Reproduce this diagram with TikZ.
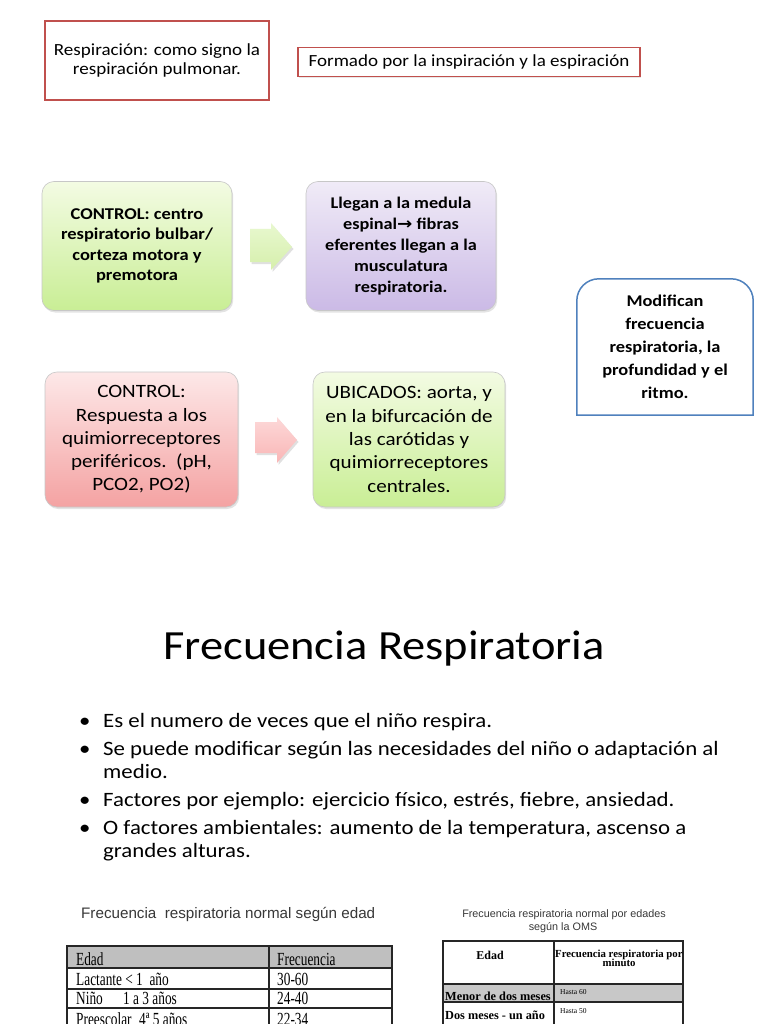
\documentclass[tikz,border=0pt]{standalone}
\usepackage{fontspec}
\setmainfont{Carlito}[FakeStretch=1.12]
\newfontfamily\dejavu{DejaVu Sans}[FakeStretch=1.12]
\newfontfamily\tserif{Liberation Serif}[FakeStretch=0.72]
\newfontfamily\tserifb{Liberation Serif}
\newfontfamily\tsans{Liberation Sans}
\usetikzlibrary{shadows}
\definecolor{bred}{HTML}{C0504D}
\definecolor{bblue}{HTML}{4F81BD}
\definecolor{gtop}{HTML}{F3FBE3}
\definecolor{gbot}{HTML}{C9EE95}
\definecolor{ptop}{HTML}{F0EBF7}
\definecolor{pbot}{HTML}{CBBAE6}
\definecolor{rtop}{HTML}{FDE8E8}
\definecolor{rbot}{HTML}{F4A2A2}
\definecolor{gatop}{HTML}{E8F8CF}
\definecolor{gabot}{HTML}{D6EFAC}
\definecolor{ratop}{HTML}{FDD8D8}
\definecolor{rabot}{HTML}{F9B6B6}
\definecolor{hgray}{HTML}{BFBFBF}
\definecolor{rgray}{HTML}{C8C8C8}
\definecolor{ttext}{HTML}{383838}
\tikzset{
  topbox/.style={draw=bred, line width=1.4pt, fill=white, align=center, inner sep=0pt,
    font=\fontsize{17}{18.5}\selectfont,
    drop shadow={opacity=0.18, shadow xshift=1pt, shadow yshift=-1.5pt}},
  gbox/.style={rounded corners=12pt, draw=black!22, line width=0.6pt, align=center, inner sep=4pt,
    drop shadow={opacity=0.22, shadow xshift=1.2pt, shadow yshift=-2pt}},
  greenfill/.style={top color=gtop, bottom color=gbot},
  purplefill/.style={top color=ptop, bottom color=pbot},
  redfill/.style={top color=rtop, bottom color=rbot},
  bluel/.style={draw=bblue, line width=1.5pt},
  tline/.style={draw=black!85, line width=1.4pt},
  btext/.style={anchor=base west, inner sep=0pt},
  bul/.style={anchor=base west, inner sep=0pt, font=\fontsize{20.4}{23}\selectfont},
  t1/.style={anchor=base west, inner sep=0pt, font=\tserif\fontsize{18.5}{20}\selectfont},
}
\begin{document}
\begin{tikzpicture}[x=1pt,y=-1pt]
\useasboundingbox[fill=white] (0,0) rectangle (768,1024);
\clip (0,0) rectangle (768,1024);

% top boxes
\node[topbox, minimum width=224pt, minimum height=79pt] (resp) at (157,60.5)
  {Respiración: como signo la\\respiración pulmonar.};
\node[topbox, minimum width=342pt, minimum height=29pt] (form) at (469,62)
  {Formado por la inspiración y la espiración};

% first row
\node[gbox, greenfill, minimum width=190pt, minimum height=129pt,
  font=\bfseries\fontsize{16.5}{20.5}\selectfont] (ctrl1) at (137,246)
  {CONTROL: centro\\respiratorio bulbar/\\corteza motora y\\premotora};
\node[gbox, purplefill, minimum width=190pt, minimum height=129pt,
  font=\bfseries\fontsize{16.3}{21}\selectfont] (lleg) at (401,246)
  {Llegan a la medula\\espinal{\dejavu\bfseries →} fibras\\eferentes llegan a la\\musculatura\\respiratoria.};

% block arrow 1
\fill[black, opacity=0.12] (251.5,231) -- (272.5,231) -- (272.5,225) -- (293.5,249) -- (272.5,272) -- (272.5,264) -- (251.5,264) -- cycle;
\shade[top color=gatop, bottom color=gabot] (250,229) -- (271,229) -- (271,223) -- (292,247) -- (271,270) -- (271,262) -- (250,262) -- cycle;

% second row
\node[gbox, redfill, minimum width=193pt, minimum height=135pt,
  font=\fontsize{18.8}{23.3}\selectfont] (ctrl2) at (141.5,439.5)
  {CONTROL:\\Respuesta a los\\quimiorreceptores\\periféricos.\ \ (pH,\\PCO2, PO2)};
\node[gbox, greenfill, minimum width=192pt, minimum height=135pt,
  font=\fontsize{18.8}{23.3}\selectfont] (ubic) at (409,439.5)
  {UBICADOS: aorta, y\\en la bifurcación de\\las carótidas y\\quimiorreceptores\\centrales.};

% block arrow 2
\fill[black, opacity=0.12] (256.5,424) -- (278.5,424) -- (278.5,419) -- (298.5,442) -- (278.5,465) -- (278.5,455) -- (256.5,455) -- cycle;
\shade[top color=ratop, bottom color=rabot] (255,422) -- (277,422) -- (277,417) -- (297,440) -- (277,463) -- (277,453) -- (255,453) -- cycle;

% blue box
\node[minimum width=176pt, minimum height=139pt, align=center, inner sep=0pt,
  font=\bfseries\fontsize{16.4}{23}\selectfont] (modi) at (665,347)
  {Modifican\\frecuencia\\respiratoria, la\\profundidad y el\\ritmo.};
\draw[bluel] ([yshift=1.5pt]modi.south west) -- ([yshift=-23.5pt]modi.north west)
  arc[start angle=180, end angle=90, radius=22pt] -- ([xshift=-22pt, yshift=-1.5pt]modi.north east)
  arc[start angle=90, end angle=0, radius=22pt] -- ([yshift=1.5pt]modi.south east) -- cycle;

% title
\node[anchor=base, inner sep=0pt, font=\fontsize{41.5}{45}\selectfont] (title) at (384,659) {Frecuencia Respiratoria};

% bullets
\node[bul] (d1) at (79,727) {•};
\node[bul] (b1) at (103,727) {Es el numero de veces que el niño respira.};
\node[bul] (d2) at (79,755) {•};
\node[bul] (b2) at (103,755) {Se puede modificar según las necesidades del niño o adaptación al};
\node[bul] (b2b) at (103,778) {medio.};
\node[bul] (d3) at (79,806) {•};
\node[bul] (b3) at (103,806) {Factores por ejemplo: ejercicio físico, estrés, fiebre, ansiedad.};
\node[bul] (d4) at (79,834) {•};
\node[bul] (b4) at (103,834) {O factores ambientales: aumento de la temperatura, ascenso a};
\node[bul] (b4b) at (103,857) {grandes alturas.};

% table 1
\node[btext, text=ttext, font=\tsans\fontsize{15.2}{16}\selectfont] (t1title) at (81,918) {Frecuencia\ \ respiratoria normal según edad};
\fill[hgray] (67,946) rectangle (392,968);
\draw[tline] (67,946) rectangle (392,1040);
\draw[tline] (67,968) -- (392,968);
\draw[tline] (67,989) -- (392,989);
\draw[tline] (67,1008) -- (392,1008);
\draw[tline] (269,946) -- (269,1040);
\node[t1] (h1a) at (76,965) {Edad};
\node[t1] (h1b) at (277,965) {Frecuencia};
\node[t1] (r1a) at (76,985) {Lactante < 1\ \ año};
\node[t1] (r1b) at (277,985) {30-60};
\node[t1] (r2a) at (76,1004) {Niño};
\node[t1] (r2c) at (123,1004) {1 a 3 años};
\node[t1] (r2b) at (277,1004) {24-40};
\node[t1] (r3a) at (76,1025) {Preescolar};
\node[t1] (r3c) at (139,1025) {4ª 5 años};
\node[t1] (r3b) at (277,1025) {22-34};

% table 2
\node[anchor=base, inner sep=0pt, text=ttext, font=\tsans\fontsize{10.8}{13}\selectfont] (t2ta) at (564,917) {Frecuencia respiratoria normal por edades};
\node[anchor=base, inner sep=0pt, text=ttext, font=\tsans\fontsize{10.8}{13}\selectfont] (t2tb) at (563,930) {según la OMS};
\fill[rgray] (443,984) rectangle (683,1002);
\draw[tline] (443,941) rectangle (683,1040);
\draw[tline] (443,984) -- (683,984);
\draw[tline] (443,1002) -- (683,1002);
\draw[tline] (554,941) -- (554,1040);
\node[anchor=base, inner sep=0pt, font=\tserifb\bfseries\fontsize{12}{13}\selectfont] (h2a) at (490,959) {Edad};
\node[btext, font=\tserifb\bfseries\fontsize{10.8}{11}\selectfont] (h2b) at (555,957) {Frecuencia respiratoria por};
\node[anchor=base, inner sep=0pt, font=\tserifb\bfseries\fontsize{10.8}{11}\selectfont] (h2c) at (619,966) {minuto};
\node[btext, font=\tserifb\bfseries\fontsize{12.3}{13}\selectfont] (s1a) at (445,1000) {Menor de dos meses};
\node[btext, font=\tserifb\fontsize{7.5}{8}\selectfont] (s1b) at (560,994) {Hasta 60};
\node[btext, font=\tserifb\bfseries\fontsize{12.3}{13}\selectfont] (s2a) at (445,1019) {Dos meses - un año};
\node[btext, font=\tserifb\fontsize{7.5}{8}\selectfont] (s2b) at (560,1013) {Hasta 50};
\end{tikzpicture}
\end{document}
